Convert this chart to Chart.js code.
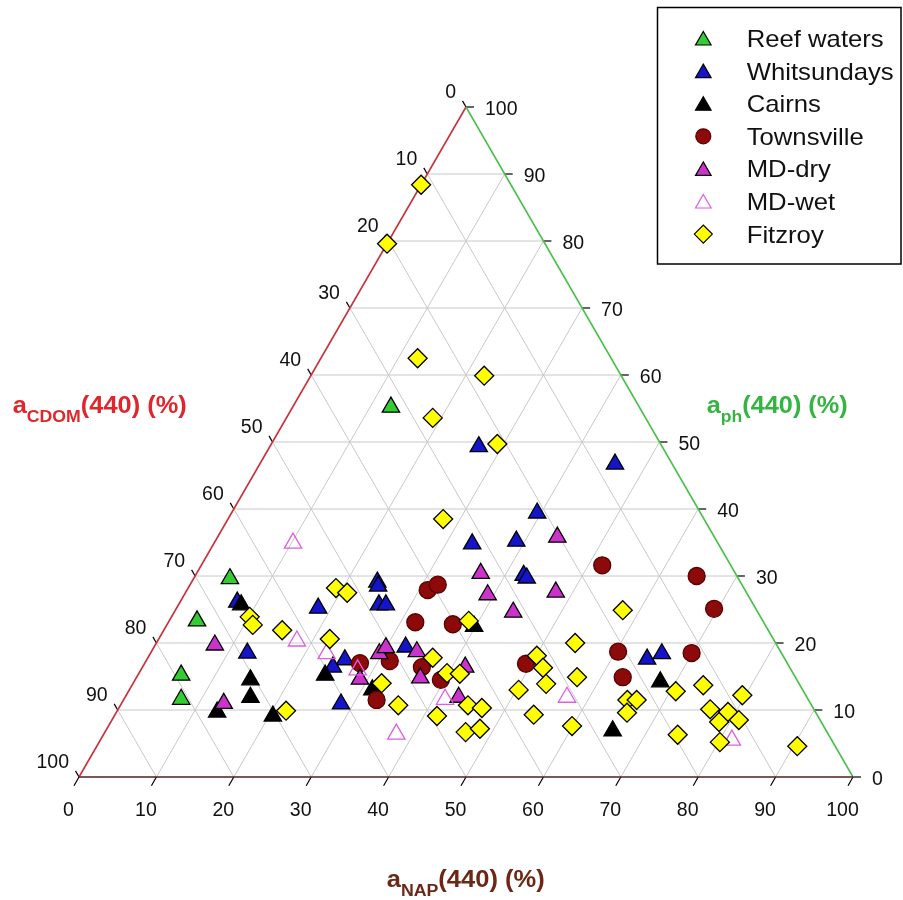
<!DOCTYPE html>
<html lang="en">
<head>
  <meta charset="UTF-8" />
  <title>Absorption budget at 440 nm - ternary plot</title>
  <style>
    html, body { margin: 0; padding: 0; background: #fff; }
    canvas { display: block; }
  </style>
</head>
<body>
  <canvas id="ternary" width="903" height="900"></canvas>

  <script src="https://cdn.jsdelivr.net/npm/chart.js"></script>
  <script>
    // each point is [aNAP(440) %, aph(440) %]; aCDOM(440) % is what is left to 100
    const reefWaters = [[12.7, 55.2], [4.7, 29.6], [3.6, 23.3], [5.6, 15.2], [7.4, 11.6]];
    const whitsundays = [[27.0, 49.3], [45.9, 46.7], [39.5, 39.4], [33.4, 34.8], [38.9, 35.2],
      [42.4, 30.1], [43.0, 29.7], [24.0, 29.1], [24.4, 28.5], [25.9, 25.7], [26.8, 25.7],
      [18.3, 25.2], [32.5, 19.4], [25.6, 17.5], [24.6, 16.4], [28.4, 10.9], [12.5, 18.5],
      [7.4, 26.1], [64.6, 17.6], [66.1, 18.4]];
    const cairns = [[8.1, 25.7], [14.9, 14.5], [16.2, 11.9], [13.0, 9.7], [20.5, 9.1],
      [24.2, 15.2], [31.4, 13.0], [68.0, 14.2], [65.5, 6.9], [39.8, 22.5]];
    const townsville = [[31.1, 27.9], [32.0, 28.7], [31.9, 23.1], [36.9, 22.8], [27.8, 17.0],
      [31.5, 17.3], [36.1, 16.4], [39.5, 14.5], [32.7, 11.5], [51.8, 31.6], [64.8, 30.0],
      [69.5, 25.1], [60.3, 18.7], [69.9, 18.5], [62.8, 14.9], [49.3, 16.9]];
    const mdDry = [[7.7, 19.7], [13.2, 11.0], [29.6, 18.4], [30.0, 19.3], [34.3, 18.7],
      [29.0, 14.6], [36.7, 14.8], [43.1, 11.9], [41.7, 16.4], [36.7, 30.4], [39.2, 27.2],
      [47.8, 27.6], [43.8, 24.6], [43.9, 35.8]];
    const mdWet = [[10.2, 34.9], [18.0, 20.3], [22.8, 18.4], [28.0, 16.0], [41.5, 11.6],
      [37.8, 6.4], [57.1, 11.9], [81.6, 5.5]];
    const fitzroy = [[0.0, 88.4], [0.0, 79.6], [12.5, 62.5], [22.4, 59.9], [18.9, 53.6],
      [29.2, 49.7], [27.8, 38.5], [10.1, 23.9], [11.1, 22.7], [15.3, 21.9], [19.1, 28.2],
      [20.9, 27.5], [22.1, 20.6], [21.8, 9.9], [36.8, 17.8], [39.8, 15.5], [41.5, 15.4],
      [32.1, 14.0], [35.9, 10.7], [41.7, 9.1], [38.7, 23.3], [44.9, 10.7], [46.9, 10.3],
      [46.6, 6.7], [48.2, 7.2], [57.8, 24.9], [54.1, 20.0], [50.1, 18.1], [51.8, 16.3],
      [53.4, 13.9], [56.9, 14.9], [50.3, 13.0], [54.1, 9.3], [59.9, 7.6], [65.1, 11.5],
      [66.3, 11.5], [66.0, 9.6], [70.7, 12.8], [73.8, 13.7], [79.6, 12.2], [76.5, 10.1],
      [79.0, 9.7], [78.6, 8.2], [81.0, 8.5], [74.2, 6.3], [80.2, 5.2], [90.5, 4.6]];

    const seriesNames = ['Reef waters', 'Whitsundays', 'Cairns', 'Townsville', 'MD-dry', 'MD-wet', 'Fitzroy'];
    const tickValues = [0, 10, 20, 30, 40, 50, 60, 70, 80, 90, 100];

    const H = Math.sqrt(3) / 2;
    const FONT = '"Liberation Sans", Arial, sans-serif';

    // ternary -> cartesian (data units, base of the triangle = 100)
    const toXY = ([nap, aph]) => ({ x: nap + aph / 2, y: aph * H });

    const estilos = [
      { data: reefWaters, pointStyle: 'triangle', radius: 10, bg: '#33cc33', border: '#000' },
      { data: whitsundays, pointStyle: 'triangle', radius: 10, bg: '#1414c8', border: '#000' },
      { data: cairns, pointStyle: 'triangle', radius: 10, bg: '#000', border: '#000' },
      { data: townsville, pointStyle: 'circle', radius: 8.5, bg: '#8c0a0a', border: '#5a0000' },
      { data: mdDry, pointStyle: 'triangle', radius: 10, bg: '#cc33cc', border: '#000' },
      { data: mdWet, pointStyle: 'triangle', radius: 10, bg: 'rgba(255,255,255,0)', border: '#e05ce0' },
      { data: fitzroy, pointStyle: 'rectRot', radius: 9.5, bg: '#ffff00', border: '#000' }
    ];

    const datasets = estilos.map((s, i) => ({
      label: seriesNames[i],
      data: s.data.map(toXY),
      pointStyle: s.pointStyle,
      pointRadius: s.radius,
      pointHoverRadius: s.radius,
      backgroundColor: s.bg,
      borderColor: s.border,
      borderWidth: 1.3,
      order: estilos.length - i, // later series on top
      clip: false
    }));

    // frame, grid, ticks, titles and legend of the triangle
    const ternaryFrame = {
      id: 'ternaryFrame',
      beforeDatasetsDraw(chart) {
        const ctx = chart.ctx;
        const P = (nap, aph) => ({
          x: chart.scales.x.getPixelForValue(nap + aph / 2),
          y: chart.scales.y.getPixelForValue(aph * H)
        });
        const linea = (a, b) => { ctx.beginPath(); ctx.moveTo(a.x, a.y); ctx.lineTo(b.x, b.y); ctx.stroke(); };

        ctx.save();
        ctx.strokeStyle = '#c8c8c8';
        ctx.lineWidth = 1;
        for (let k = 10; k < 100; k += 10) {
          linea(P(0, k), P(100 - k, k));      // aph constante
          linea(P(k, 0), P(k, 100 - k));      // aNAP constante
          linea(P(100 - k, 0), P(0, 100 - k)); // aCDOM constante
        }

        // ticks
        ctx.strokeStyle = '#000';
        ctx.lineWidth = 1.2;
        tickValues.forEach(k => {
          const b = P(k, 0);
          linea(b, { x: b.x - 5, y: b.y + 8.7 });
          const l = P(0, 100 - k);
          linea(l, { x: l.x - 3.5, y: l.y - 6.1 });
          const r = P(100 - k, k);
          linea(r, { x: r.x + 8, y: r.y });
        });

        // edges
        ctx.lineWidth = 1.6;
        ctx.strokeStyle = '#c8323c';
        linea(P(0, 0), P(0, 100));
        ctx.strokeStyle = '#4cc04c';
        linea(P(100, 0), P(0, 100));
        ctx.strokeStyle = '#4a2222';
        linea(P(0, 0), P(100, 0));
        ctx.restore();
      },
      afterDraw(chart) {
        const ctx = chart.ctx;
        const P = (nap, aph) => ({
          x: chart.scales.x.getPixelForValue(nap + aph / 2),
          y: chart.scales.y.getPixelForValue(aph * H)
        });

        // tick labels
        ctx.save();
        ctx.fillStyle = '#111';
        ctx.font = '19.5px ' + FONT;
        ctx.textBaseline = 'alphabetic';
        tickValues.forEach(k => {
          const b = P(k, 0);
          ctx.textAlign = 'center';
          ctx.fillText(String(k), b.x - 10.5, b.y + 39);
          const l = P(0, 100 - k);
          ctx.textAlign = 'right';
          ctx.fillText(String(k), l.x - 10, l.y - 9.5);
          const r = P(100 - k, k);
          ctx.textAlign = 'left';
          ctx.fillText(String(k), r.x + 19, r.y + 7.5);
        });
        ctx.restore();

        // axis titles with subscript
        const titulo = (sub, x, y, ancho, color) => {
          const partes = [
            { t: 'a', f: 'bold 23px ' + FONT, dy: 0 },
            { t: sub, f: 'bold 16px ' + FONT, dy: 8.5 },
            { t: '(440) (%)', f: 'bold 23px ' + FONT, dy: 0 }
          ];
          ctx.save();
          let natural = 0;
          partes.forEach(p => { ctx.font = p.f; natural += ctx.measureText(p.t).width; });
          ctx.translate(x, y);
          ctx.scale(ancho / natural, 1);
          ctx.fillStyle = color;
          ctx.textAlign = 'left';
          ctx.textBaseline = 'alphabetic';
          let cx = 0;
          partes.forEach(p => {
            ctx.font = p.f;
            ctx.fillText(p.t, cx, p.dy);
            cx += ctx.measureText(p.t).width;
          });
          ctx.restore();
        };
        titulo('CDOM', 12.7, 413, 174, '#e0262c');
        titulo('ph', 706.7, 413, 141, '#33b540');
        titulo('NAP', 386.7, 887, 158, '#6b2814');

        // legend
        ctx.save();
        ctx.fillStyle = '#fff';
        ctx.fillRect(657.5, 7.5, 243.5, 256.5);
        ctx.strokeStyle = '#000';
        ctx.lineWidth = 1.5;
        ctx.strokeRect(657.5, 7.5, 243.5, 256.5);
        estilos.forEach((s, i) => {
          const y = 38.5 + i * 32.6;
          ctx.fillStyle = s.bg;
          ctx.strokeStyle = s.border;
          ctx.lineWidth = 1.2;
          const shift = s.pointStyle === 'triangle' ? 2 : 0;
          if (Chart.helpers && Chart.helpers.drawPoint) {
            Chart.helpers.drawPoint(ctx, {
              pointStyle: s.pointStyle,
              radius: s.pointStyle === 'circle' ? 7.5 : 9,
              rotation: 0,
              borderWidth: 1.2
            }, 703.3, y + shift);
          }
          ctx.save();
          ctx.translate(746.7, y + 8.5);
          ctx.scale(1.07, 1);
          ctx.fillStyle = '#111';
          ctx.font = '24px ' + FONT;
          ctx.textAlign = 'left';
          ctx.textBaseline = 'alphabetic';
          ctx.fillText(seriesNames[i], 0, 0);
          ctx.restore();
        });
        ctx.restore();
      }
    };

    const chart = new Chart(document.getElementById('ternary').getContext('2d'), {
      type: 'scatter',
      data: { datasets },
      options: {
        responsive: false,
        animation: false,
        layout: { padding: { left: 79, right: 50, top: 107, bottom: 123 } },
        scales: {
          x: { type: 'linear', min: 0, max: 100, display: false },
          y: { type: 'linear', min: 0, max: 100 * H, display: false }
        },
        plugins: {
          legend: { display: false },
          tooltip: { enabled: false }
        },
        events: []
      },
      plugins: [ternaryFrame]
    });
  </script>
</body>
</html>
